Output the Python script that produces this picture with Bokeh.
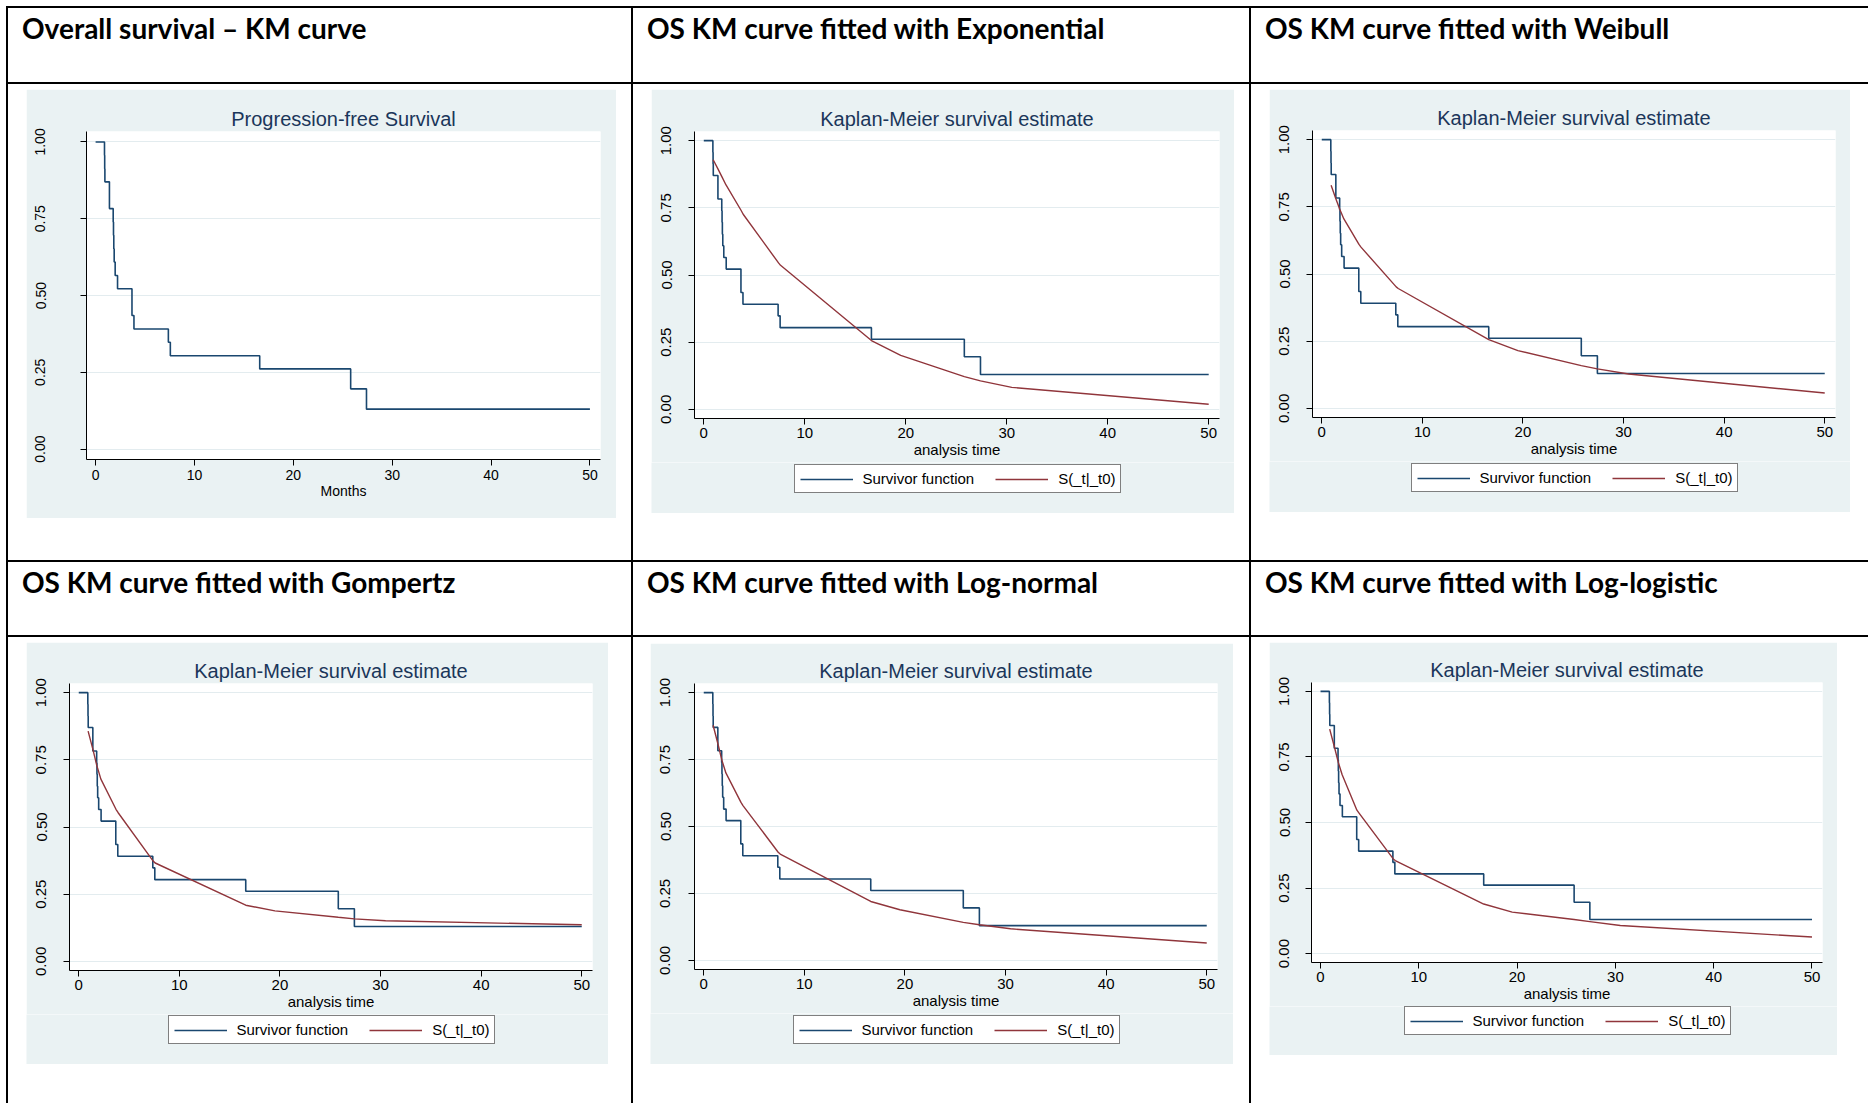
from bokeh.plotting import figure
from bokeh.layouts import row, column
from bokeh.models import (Spacer, Div, Range1d, FixedTicker, Legend, LegendItem,
                          PrintfTickFormatter)
from bokeh.core.properties import value
from bokeh.embed import file_html
from bokeh.resources import INLINE

# ---------------- data ----------------
headers = [
    "Overall survival \u2013 KM curve",
    "OS KM curve fitted with Exponential",
    "OS KM curve fitted with Weibull",
    "OS KM curve fitted with Gompertz",
    "OS KM curve fitted with Log-normal",
    "OS KM curve fitted with Log-logistic",
]
panel_titles = ["Progression-free Survival"] + ["Kaplan-Meier survival estimate"] * 5
x_titles = ["Months"] + ["analysis time"] * 5
legend_labels = ["Survivor function", "S(_t|_t0)"]

# Kaplan-Meier step function (same data in every panel)
km_time = [0.0, 0.90, 0.92, 0.94, 1.40, 1.78, 1.81, 1.84, 1.88, 1.98, 2.22,
           3.68, 3.88, 7.36, 7.56, 16.6, 25.8, 27.4, 50.0]
km_surv = [1.000, 0.957, 0.913, 0.870, 0.783, 0.739, 0.696, 0.652, 0.609, 0.565, 0.522,
           0.435, 0.391, 0.348, 0.304, 0.261, 0.196, 0.130, 0.130]

# fitted survival S(_t|_t0), evaluated at the observed times
fit_time = [0.93, 1.4, 1.8, 2.2, 3.7, 3.9, 7.4, 7.6, 16.6, 19.5, 25.8, 27.4, 30.5, 50.0]
surv_exponential = [0.929, 0.895, 0.865, 0.835, 0.740, 0.726, 0.545, 0.536, 0.256, 0.201, 0.122, 0.106, 0.082, 0.019]
surv_weibull     = [0.830, 0.780, 0.740, 0.705, 0.610, 0.600, 0.452, 0.446, 0.256, 0.215, 0.159, 0.147, 0.128, 0.057]
surv_gompertz    = [0.857, 0.790, 0.728, 0.678, 0.566, 0.554, 0.373, 0.366, 0.209, 0.188, 0.164, 0.158, 0.151, 0.136]
surv_lognormal   = [0.878, 0.810, 0.748, 0.700, 0.590, 0.578, 0.404, 0.397, 0.220, 0.189, 0.142, 0.133, 0.118, 0.065]
surv_loglogistic = [0.856, 0.790, 0.730, 0.682, 0.547, 0.537, 0.361, 0.355, 0.189, 0.158, 0.130, 0.122, 0.107, 0.063]
fits = [None, surv_exponential, surv_weibull, surv_gompertz, surv_lognormal, surv_loglogistic]

x_ticks = [0, 10, 20, 30, 40, 50]
y_ticks = [0.0, 0.25, 0.5, 0.75, 1.0]

# ---------------- style ----------------
BG = "#EAF2F3"
GRID = "#E3ECEF"
NAVY = "#1A476F"
MAROON = "#90353B"
TITLE_C = "#1B365A"
FONT = "Liberation Sans"
HFONT = "Lato"
BLACK = {"background-color": "#000000"}
LEGEND_W = 326
AXIS_H = 44   # room kept under each frame for the x axis

# layout of each panel: cell size, offset of panel inside cell, panel size,
# frame borders, legend bottom below the frame
layout_spec = [
    dict(cw=623, ch=476, left=18, top=5, w=590, h=429, bl=60, br=16, bt=42, bb=59, fs=14, lb=0),
    dict(cw=616, ch=476, left=18, top=5, w=583, h=424, bl=43, br=15, bt=42, bb=95, fs=15, lb=75),
    dict(cw=617, ch=476, left=18, top=5, w=581, h=423, bl=43, br=15, bt=41, bb=95, fs=15, lb=75),
    dict(cw=623, ch=466, left=18, top=5, w=582, h=422, bl=43, br=16, bt=41, bb=94, fs=15, lb=74),
    dict(cw=616, ch=466, left=17, top=6, w=583, h=421, bl=44, br=16, bt=40, bb=95, fs=15, lb=75),
    dict(cw=617, ch=466, left=18, top=5, w=568, h=413, bl=42, br=15, bt=40, bb=93, fs=15, lb=73),
]


def make_plot(i):
    s = layout_spec[i]
    fsz = f"{s['fs']}px"
    has_fit = fits[i] is not None
    bb = AXIS_H if has_fit else s["bb"]
    h = s["h"] - (s["bb"] - AXIS_H) if has_fit else s["h"]
    p = figure(width=s["w"], height=h, title=panel_titles[i],
               x_range=Range1d(-0.92, 51.07), y_range=Range1d(-0.034, 1.034),
               output_backend="svg", toolbar_location=None,
               min_border_left=s["bl"], min_border_right=s["br"],
               min_border_top=s["bt"], min_border_bottom=bb,
               border_fill_color=BG, background_fill_color="white",
               outline_line_color=None)
    p.title.align = "center"
    p.title.text_font = FONT
    p.title.text_font_style = "normal"
    p.title.text_font_size = "20px"
    p.title.text_color = TITLE_C
    p.title.standoff = 4

    xa = p.xaxis[0]
    xa.ticker = FixedTicker(ticks=x_ticks)
    xa.axis_label = x_titles[i]
    xa.axis_label_text_font = FONT
    xa.axis_label_text_font_style = "normal"
    xa.axis_label_text_font_size = fsz
    xa.axis_label_text_color = "#000000"
    xa.axis_label_standoff = 0
    xa.major_label_standoff = 3 if i else 4
    xa.major_label_text_font = FONT
    xa.major_label_text_font_size = fsz
    xa.major_label_text_color = "#000000"
    xa.major_tick_out = 6
    xa.major_tick_in = 0
    xa.minor_tick_out = 0
    xa.minor_tick_in = 0
    xa.axis_line_color = "#000000"
    xa.major_tick_line_color = "#000000"

    ya = p.yaxis[0]
    ya.ticker = FixedTicker(ticks=y_ticks)
    ya.formatter = PrintfTickFormatter(format="%.2f")
    ya.major_label_orientation = "vertical"
    ya.major_label_text_font = FONT
    ya.major_label_text_font_size = fsz
    ya.major_label_text_color = "#000000"
    ya.major_tick_out = 6
    ya.major_tick_in = 0
    ya.minor_tick_out = 0
    ya.minor_tick_in = 0
    ya.axis_line_color = "#000000"
    ya.major_tick_line_color = "#000000"
    ya.major_label_standoff = 35 if i == 0 else s["bl"] - 26

    p.xgrid.grid_line_color = None
    p.ygrid.grid_line_color = GRID
    p.ygrid.grid_line_width = 1.2

    p.step(km_time, km_surv, mode="after", line_color=NAVY, line_width=1.6)
    if has_fit:
        p.line(fit_time, fits[i], line_color=MAROON, line_width=1.4)
    return p


def make_legend(i):
    """Legend strip under the plot, on the same light panel colour.
    It holds the same two series (scrolled out of its view) so that the
    legend can show their line samples."""
    s = layout_spec[i]
    lh = s["bb"] - AXIS_H
    lp = figure(width=s["w"], height=lh, x_range=Range1d(-0.92, 51.07), y_range=Range1d(5, 6),
                output_backend="svg", toolbar_location=None,
                x_axis_type=None, y_axis_type=None, min_border=0,
                border_fill_color=BG, background_fill_color=BG,
                outline_line_color=None)
    r_km = lp.step(km_time, km_surv, mode="after", line_color=NAVY, line_width=1.6)
    r_fit = lp.line(fit_time, fits[i], line_color=MAROON, line_width=1.4)
    frame_w = s["w"] - s["bl"] - s["br"]
    leg = Legend(items=[LegendItem(label=value(legend_labels[0]), renderers=[r_km]),
                        LegendItem(label=value(legend_labels[1]), renderers=[r_fit])],
                 orientation="horizontal",
                 location=(s["bl"] + (frame_w - LEGEND_W) / 2, s["bb"] - s["lb"]),
                 border_line_color="#000000", border_line_width=1,
                 background_fill_color="white", background_fill_alpha=1.0,
                 label_text_font=FONT, label_text_font_size="15px",
                 label_text_color="#000000",
                 glyph_width=53, glyph_height=16, label_standoff=10,
                 spacing=21, padding=5, margin=0)
    lp.add_layout(leg)
    return lp


def cell(i):
    s = layout_spec[i]
    rest = s["cw"] - s["left"] - s["w"]
    main = make_plot(i)
    parts = [Spacer(width=s["cw"], height=s["top"]),
             row(Spacer(width=s["left"], height=main.height), main,
                 Spacer(width=rest, height=main.height))]
    if fits[i] is not None:
        lp = make_legend(i)
        parts.append(row(Spacer(width=s["left"], height=lp.height), lp,
                         Spacer(width=rest, height=lp.height)))
    parts.append(Spacer(width=s["cw"], height=s["ch"] - s["top"] - s["h"]))
    return column(*parts)


def header(i, w, h):
    html = (f'<div style="font-family:{HFONT};font-weight:700;font-size:28px;'
            f'line-height:1.2;padding:4px 0 0 14px;color:#000;white-space:nowrap;">'
            f'{headers[i]}</div>')
    return Div(text=html, width=w, height=h, margin=0)


def hline():
    return row(Spacer(width=6, height=2), Spacer(width=1862, height=2, styles=BLACK))


def vline(h):
    return Spacer(width=2, height=h, styles=BLACK)


def hdr_row(start, h):
    return row(Spacer(width=6, height=h), vline(h), header(start, 623, h), vline(h),
               header(start + 1, 616, h), vline(h), header(start + 2, 617, h))


def body_row(start, h):
    return row(Spacer(width=6, height=h), vline(h), cell(start), vline(h),
               cell(start + 1), vline(h), cell(start + 2))


page = column(
    Spacer(width=1868, height=6),
    hline(),
    hdr_row(0, 74),
    hline(),
    body_row(0, 476),
    hline(),
    hdr_row(3, 73),
    hline(),
    body_row(3, 466),
)

open("out.html", "w", encoding="utf-8").write(file_html(page, INLINE, title="KM curves"))
